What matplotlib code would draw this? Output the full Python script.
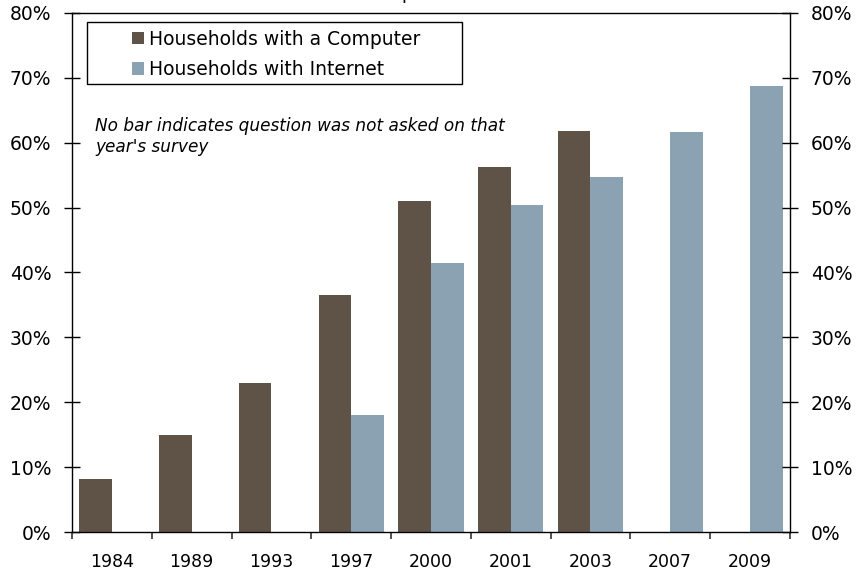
import numpy as np
import matplotlib.pyplot as plt
from matplotlib.patches import Rectangle
from matplotlib.ticker import FuncFormatter, MultipleLocator

years = ['1984', '1989', '1993', '1997', '2000', '2001', '2003', '2007', '2009']
computer = [8.2, 15.0, 22.9, 36.6, 51.0, 56.3, 61.8, np.nan, np.nan]
internet = [np.nan, np.nan, np.nan, 18.0, 41.5, 50.4, 54.7, 61.7, 68.7]

comp_color = '#5F5347'
net_color = '#8AA2B2'

plt.rcParams['font.family'] = ['DejaVu Sans']

fig = plt.figure(figsize=(8.68, 5.71), dpi=100)
ax = fig.add_axes([0.083, 0.0683, 0.827, 0.909])

x = np.arange(len(years))
w = 0.41
ax.bar(x - w / 2, computer, w, color=comp_color, label='Households with a Computer')
ax.bar(x + w / 2, internet, w, color=net_color, label='Households with Internet')

ax.set_xlim(-0.5, len(years) - 0.5)
ax.set_ylim(0, 80)
ax.yaxis.set_major_locator(MultipleLocator(10))
pct = FuncFormatter(lambda v, p: '%d%%' % v)
ax.yaxis.set_major_formatter(pct)
ax.tick_params(axis='y', direction='inout', length=11, width=1, labelsize=13.5,
               left=True, right=True, labelleft=True, labelright=True, pad=9.5)

# category labels centred, tick marks on the boundaries
ax.set_xticks(x)
ax.set_xticklabels(years, fontsize=12.5)
ax.tick_params(axis='x', which='major', length=0, pad=15)
ax.set_xticks(np.arange(len(years) + 1) - 0.5, minor=True)
ax.tick_params(axis='x', which='minor', direction='out', length=5, width=1.2, color='#333333')

for s in ax.spines.values():
    s.set_color('black')
    s.set_linewidth(1)

# legend box drawn separately so it can be wider than its entries
ax.add_patch(Rectangle((0.021, 0.863), 0.522, 0.12, transform=ax.transAxes,
                       fill=False, edgecolor='black', linewidth=1, zorder=4))
leg = ax.legend(loc='upper left', bbox_to_anchor=(0.083, 0.968), fontsize=13.5,
                frameon=False, handlelength=0.65, handleheight=0.65, handletextpad=0.3,
                borderpad=0, labelspacing=0.62, borderaxespad=0)

ax.text(0.032, 0.80, "No bar indicates question was not asked on that\nyear's survey",
        transform=ax.transAxes, fontsize=12.2, style='italic', va='top', linespacing=1.22)

fig.text(361 / 868, 1.0 + 1 / 571, 'Computer and Internet Use', fontsize=13,
         ha='left', va='baseline')

fig.savefig('out.png', dpi=100)
